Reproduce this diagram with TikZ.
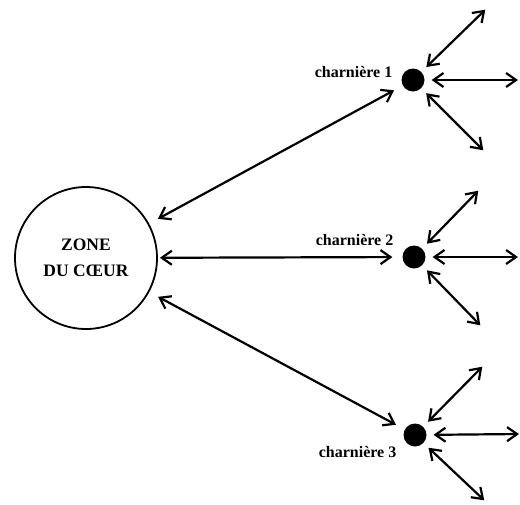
\documentclass[tikz,border=0pt]{standalone}
\usepackage{fontspec}
\setmainfont{Liberation Serif}
\usetikzlibrary{arrows.meta,positioning}
\begin{document}
\begin{tikzpicture}[x=1pt, y=-1pt, line width=2.2pt,
		every node/.style={font=\bfseries},
		zonebox/.style={draw, circle, minimum size=142pt, inner sep=0pt, align=center, line width=1.8pt, font=\fontsize{17.5}{26}\selectfont\bfseries},
		hinge/.style={circle, fill=black, minimum size=23pt, inner sep=0pt},
		hingelabel/.style={inner sep=0pt, font=\fontsize{16}{18}\selectfont\bfseries},
		link/.style={{Straight Barb[length=10pt,width=14pt]}-{Straight Barb[length=10pt,width=14pt]}, shorten <=9pt, shorten >=9pt}]
	\useasboundingbox (0,0) rectangle (520,504);
	\node[zonebox] (zone) at (86,258) {ZONE\\DU C\OE UR};
	\node[hinge] (c1) at (413,80) {};
	\node[hinge] (c2) at (414,257) {};
	\node[hinge] (c3) at (415,435) {};
	\node[hingelabel, left=7pt of c1, yshift=8pt] (l1) {charnière 1};
	\node[hingelabel, left=7pt of c2, yshift=17pt] (l2) {charnière 2};
	\node[hingelabel, left=5pt of c3, yshift=-17pt] (l3) {charnière 3};
	% free ends
	\coordinate (e1a) at (486,9);
	\coordinate (e1b) at (519,80);
	\coordinate (e1c) at (484,151);
	\coordinate (e2a) at (479,190);
	\coordinate (e2b) at (519,257);
	\coordinate (e2c) at (481,326);
	\coordinate (e3a) at (483,366);
	\coordinate (e3b) at (520,434);
	\coordinate (e3c) at (485,501);
	% links
	\draw[link, shorten <=10pt] (zone) -- (c1);
	\draw[link, shorten <=2pt] (zone) -- (c2);
	\draw[link, shorten <=10pt] (zone) -- (c3);
	\foreach \n in {1,2,3}
		\foreach \e in {a,b,c}
			\draw[link, shorten >=1pt, shorten <=6pt] (c\n) -- (e\n\e);
\end{tikzpicture}
\end{document}
